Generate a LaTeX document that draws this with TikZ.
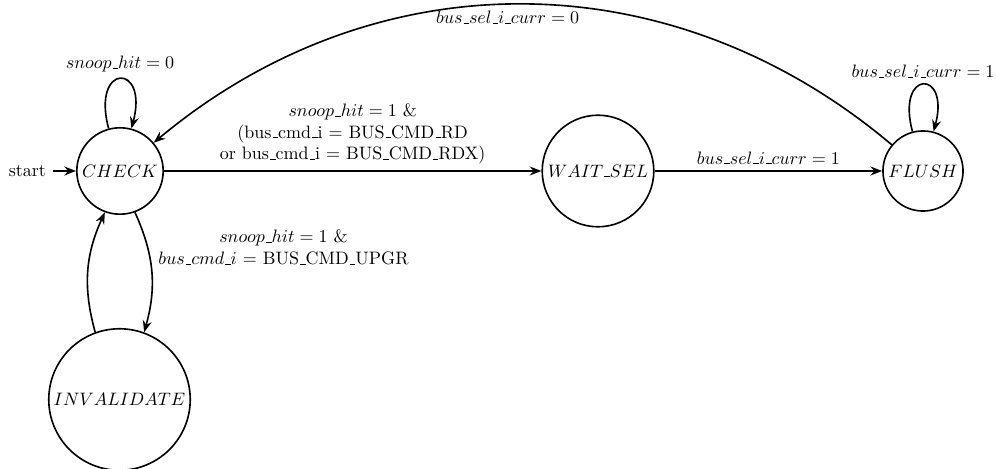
\documentclass[tikz,border=0pt]{standalone}
\usetikzlibrary{automata,arrows.meta}
% short underscore rule, as in classic LaTeX
\newcommand\usc{\mbox{\kern.06em\vbox{\hrule width.3em}}}
\begin{document}
\begin{tikzpicture}[x=0.5556pt,y=0.5556pt,
  line width=0.9pt,
  >={Stealth[length=6.5pt,width=5pt,inset=2.2pt]},
  every state/.style={draw, circle, inner sep=0pt},
  every edge/.style={draw, ->},
  initial text=start,
  every initial by arrow/.style={->}]
  \useasboundingbox (0,0) rectangle (996,468);

  % states
  \node[state, initial, minimum size=48pt]   (C) at (120,297)   {$CHECK$};
  \node[state, minimum size=62pt]            (W) at (598,297)   {$WAIT\usc SEL$};
  \node[state, minimum size=44.5pt]          (F) at (923,297)   {$FLUSH$};
  \node[state, minimum size=78.6pt]          (I) at (119.5,68.5) {$INVALIDATE$};

  % transitions
  \path
    (C) edge[loop above, distance=38pt] node[above] {$snoop\usc hit = 0$} (C)
    (C) edge node[above, align=center]
        {$snoop\usc hit = 1$ \&\\ (bus\usc cmd\usc i = BUS\usc CMD\usc RD\\ or bus\usc cmd\usc i = BUS\usc CMD\usc RDX)} (W)
    (C) edge[bend left=20] node[anchor=south west, align=center]
        {$snoop\usc hit = 1$ \&\\ $bus\usc cmd\usc i$ = BUS\usc CMD\usc UPGR} (I)
    (I) edge[bend left=20] (C)
    (W) edge node[above] {$bus\usc sel\usc i\usc curr = 1$} (F)
    (F) edge[loop above, distance=36pt] node[above] {$bus\usc sel\usc i\usc curr = 1$} (F)
    (F) edge[bend right=40] node[below, pos=0.52] {$bus\usc sel\usc i\usc curr = 0$} (C);
\end{tikzpicture}
\end{document}
